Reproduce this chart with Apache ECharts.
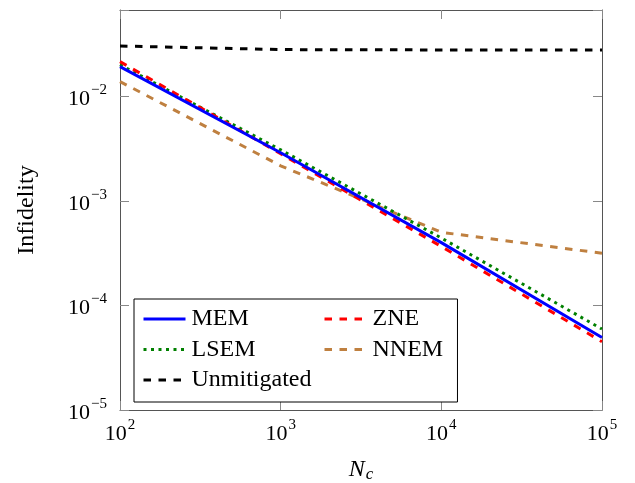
<!DOCTYPE html>
<html>
<head>
<meta charset="utf-8">
<script src="https://cdn.jsdelivr.net/npm/echarts@6/dist/echarts.min.js"></script>
<style>
  html, body { margin: 0; padding: 0; background: #fff; }
  #main { width: 635px; height: 483px; }
</style>
</head>
<body>
<div id="main"></div>
<script>
// data (log-log)
var nc = [100, 1000, 10000, 100000];
var mem = [0.0192, 0.00288, 0.000398, 0.0000494];
var lsem = [0.0200, 0.00307, 0.000441, 0.0000594];
var zne = [0.0214, 0.00282, 0.000366, 0.0000450];
var nnem = [0.0138, 0.00216, 0.000500, 0.000315];
var unmitigated = [0.0302, 0.0279, 0.0277, 0.0277];

var FONT = 'Liberation Serif';

function pairs(ys) {
    return nc.map(function (x, i) { return [x, ys[i]]; });
}

// 10^k labels, blank for the non-decade extent tick
function powLabel(v) {
    var e = Math.log10(v);
    if (Math.abs(e - Math.round(e)) > 1e-6) return '';
    e = Math.round(e);
    return '{b|10}{s|' + (e < 0 ? '\u2212' + (-e) : e) + '}';
}

var richPow = {
    b: { fontFamily: FONT, fontSize: 22, lineHeight: 22, color: '#000', padding: [6, 0, 0, 0] },
    s: { fontFamily: FONT, fontSize: 15, lineHeight: 16, color: '#000', padding: [0, 0, 12, 1] }
};

var myChart = echarts.init(document.getElementById('main'));

var frameLine = { show: true, lineStyle: { color: '#555', width: 1 } };
var tick = { show: true, inside: true, length: 9, lineStyle: { color: '#888', width: 1 } };
var legendText = { fontFamily: FONT, fontSize: 24, lineHeight: 24, color: '#000', padding: [0, 0, 0, 1] };

option = {
    animation: false,
    backgroundColor: '#fff',
    grid: { left: 120, right: 33, top: 10, bottom: 73, outerBoundsMode: 'none' },
    xAxis: [{
        type: 'log',
        min: 100,
        max: 100000,
        name: '{n|N}{c|c}',
        nameLocation: 'middle',
        nameGap: 46,
        nameTextStyle: {
            rich: {
                n: { fontFamily: FONT, fontSize: 24, fontStyle: 'italic', color: '#000', lineHeight: 24 },
                c: { fontFamily: FONT, fontSize: 17, fontStyle: 'italic', color: '#000', padding: [10, 0, 0, 1] }
            }
        },
        axisLine: frameLine,
        axisTick: tick,
        splitLine: { show: false },
        minorTick: { show: false },
        axisLabel: { margin: 10, formatter: powLabel, rich: richPow }
    }, {
        type: 'log',
        min: 100,
        max: 100000,
        position: 'top',
        axisLine: frameLine,
        axisTick: tick,
        splitLine: { show: false },
        axisLabel: { show: false }
    }],
    yAxis: [{
        type: 'log',
        min: 0.00001,
        max: 0.0667,
        name: 'Infidelity',
        nameLocation: 'middle',
        nameRotate: 90,
        nameGap: 81,
        nameTextStyle: { fontFamily: FONT, fontSize: 24, color: '#000' },
        axisLine: frameLine,
        axisTick: tick,
        splitLine: { show: false },
        axisLabel: { margin: 13, formatter: powLabel, rich: richPow }
    }, {
        type: 'log',
        min: 0.00001,
        max: 0.0667,
        position: 'right',
        axisLine: frameLine,
        axisTick: tick,
        splitLine: { show: false },
        axisLabel: { show: false }
    }],
    legend: [{
        orient: 'vertical',
        left: 134,
        top: 299,
        data: ['MEM', 'LSEM', 'Unmitigated'],
        itemWidth: 42,
        itemHeight: 14,
        itemGap: 6.5,
        padding: [8, 146, 10, 8],
        borderColor: '#000',
        borderWidth: 1,
        backgroundColor: '#fff',
        selectedMode: false,
        itemStyle: { opacity: 0 },
        lineStyle: { width: 3 },
        textStyle: legendText
    }, {
        orient: 'vertical',
        left: 314,
        top: 299,
        z: 10,
        data: ['ZNE', 'NNEM'],
        itemWidth: 42,
        itemHeight: 14,
        itemGap: 6.5,
        padding: [8, 9, 10, 9],
        selectedMode: false,
        itemStyle: { opacity: 0 },
        lineStyle: { width: 3 },
        textStyle: legendText
    }],
    series: [
        {
            name: 'MEM', type: 'line', symbol: 'none', data: pairs(mem),
            lineStyle: { color: '#0000ff', width: 3 }, itemStyle: { color: '#0000ff' }, z: 5
        },
        {
            name: 'ZNE', type: 'line', symbol: 'none', data: pairs(zne),
            lineStyle: { color: '#ff0000', width: 3, type: [7.5, 7.5] }, itemStyle: { color: '#ff0000' }, z: 4
        },
        {
            name: 'LSEM', type: 'line', symbol: 'none', data: pairs(lsem),
            lineStyle: { color: '#008000', width: 3, type: [3, 4.5] }, itemStyle: { color: '#008000' }, z: 3
        },
        {
            name: 'NNEM', type: 'line', symbol: 'none', data: pairs(nnem),
            lineStyle: { color: '#bf8040', width: 3, type: [7.5, 7.5] }, itemStyle: { color: '#bf8040' }, z: 2
        },
        {
            name: 'Unmitigated', type: 'line', symbol: 'none', data: pairs(unmitigated),
            lineStyle: { color: '#000000', width: 3, type: [7.5, 7.5] }, itemStyle: { color: '#000000' }, z: 1
        }
    ]
};

myChart.setOption(option);
</script>
</body>
</html>
